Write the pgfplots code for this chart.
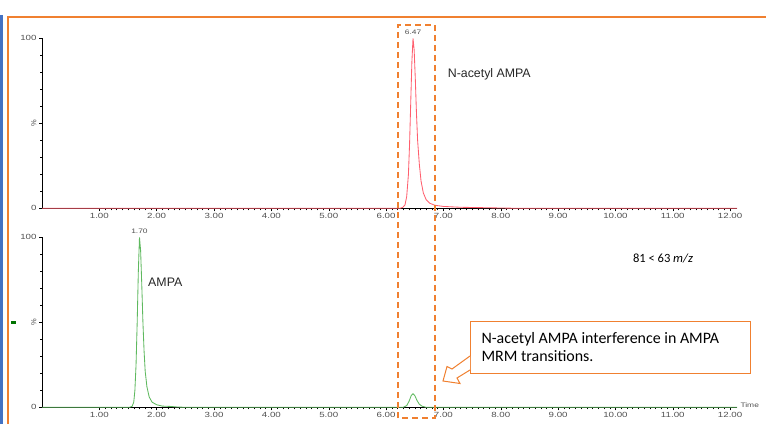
\documentclass[border=0pt]{standalone}
\usepackage{pgfplots}
\pgfplotsset{compat=1.18}
\usepackage{graphicx}
\usepackage{fontspec}
\setmainfont{Liberation Sans}
\newfontfamily\carlito{Carlito}
\definecolor{frameorange}{RGB}{240,128,48}
\definecolor{frameblue}{RGB}{68,114,196}
\definecolor{tracered}{RGB}{255,95,110}
\definecolor{tracegreen}{RGB}{95,185,95}
\definecolor{ticktext}{RGB}{80,80,80}
\newcommand{\sx}[1]{\scalebox{1.3}[1]{#1}}

\pgfplotsset{
  chrom/.style={
    scale only axis, width=695bp, height=170bp, anchor=south west,
    xmin=0, xmax=12.12, ymin=0, ymax=100,
    axis x line*=bottom, axis y line*=left,
    axis line style={black, line width=0.8pt},
    tick align=outside, major tick length=3bp, minor tick length=2bp,
    tick style={black, line width=0.4pt},
    xtick={1,...,12}, minor x tick num=9,
    xticklabels={\sx{1.00},\sx{2.00},\sx{3.00},\sx{4.00},\sx{5.00},\sx{6.00},
                 \sx{7.00},\sx{8.00},\sx{9.00},\sx{10.00},\sx{11.00},\sx{12.00}},
    ytick={0,50,100}, minor y tick num=4,
    yticklabels={\sx{0},\rotatebox{90}{\%},\sx{100}},
    tick label style={font=\fontsize{7.5}{8}\selectfont, text=ticktext},
    xticklabel style={yshift=1.5bp},
    yticklabel style={xshift=1bp},
    clip=false,
  },
}

\begin{document}
\begin{tikzpicture}[x=1bp,y=1bp]
\useasboundingbox (0,0) rectangle (766,424);
% slide frame
\draw[frameblue, line width=2bp] (1.5,0) -- (1.5,409);
\draw[frameorange, line width=2.8bp] (8,0) -- (8,407) -- (766,407);
\fill[green!45!black] (11,100.5) rectangle (16,103.5);

% N-acetyl AMPA trace
\begin{axis}[chrom, at={(42bp,215.7bp)}]
\addplot[tracered, line width=0.85pt] coordinates {
  (0,0) (6.24,0) (6.29,0.5) (6.33,2) (6.36,7) (6.39,20) (6.41,38)
  (6.43,62) (6.45,86) (6.47,100) (6.49,93) (6.51,76) (6.53,56)
  (6.55,40) (6.58,26) (6.61,16) (6.65,9) (6.70,5) (6.76,3)
  (6.85,1.8) (7.0,1.1) (7.3,0.6) (7.8,0.3) (8.3,0) (12.12,0)};
\node[font=\fontsize{6.5}{7}\selectfont, text=ticktext, anchor=south]
  at (axis cs:6.47,100) {\sx{6.47}};
\node[font=\fontsize{12.4}{14}\selectfont, text=black!85] at (axis cs:7.8,79) {N-acetyl AMPA};
\end{axis}

% AMPA trace
\begin{axis}[chrom, at={(42bp,16.7bp)}]
\addplot[tracegreen, line width=0.85pt] coordinates {
  (0,0) (1.52,0) (1.57,0.5) (1.60,3) (1.62,10) (1.64,25) (1.66,50)
  (1.68,80) (1.70,100) (1.72,92) (1.74,72) (1.76,50) (1.78,33)
  (1.80,21) (1.83,12) (1.87,6) (1.92,3) (2.0,1.5) (2.1,0.7)
  (2.25,0.5) (2.35,0.2) (2.5,0) (6.30,0) (6.36,1) (6.40,3.5)
  (6.44,7) (6.47,8) (6.50,7) (6.54,4) (6.58,1.8) (6.63,0.6)
  (6.7,0) (12.12,0)};
\node[font=\fontsize{6.5}{7}\selectfont, text=ticktext, anchor=south]
  at (axis cs:1.70,100) {\sx{1.70}};
\node[font=\fontsize{12.4}{14}\selectfont, text=black!85] at (axis cs:2.15,73.5) {AMPA};
\node[font=\fontsize{6.5}{7}\selectfont, text=ticktext, anchor=west]
  at (axis cs:12.12,1) {\sx{Time}};
\end{axis}

% annotations
\node[font=\carlito\fontsize{12.6}{14}\selectfont] at (663,166) {81 < 63 \textit{m/z}};
\draw[frameorange, line width=1.6bp, dash pattern=on 6bp off 4bp]
  (398,6) rectangle (435,399);
\draw[frameorange, line width=1bp, fill=white]
  (470,51) rectangle (750,103);
\node[font=\carlito\fontsize{16}{19}\selectfont, anchor=west, align=left]
  at (478,77) {N-acetyl AMPA interference in AMPA\\MRM transitions.};
\draw[frameorange, line width=1bp, fill=white, line join=miter]
  (470,68) -- (452,55) -- (447,57.5) -- (443,43) -- (460,40.5)
  -- (457,46) -- (470,54);
\end{tikzpicture}
\end{document}
